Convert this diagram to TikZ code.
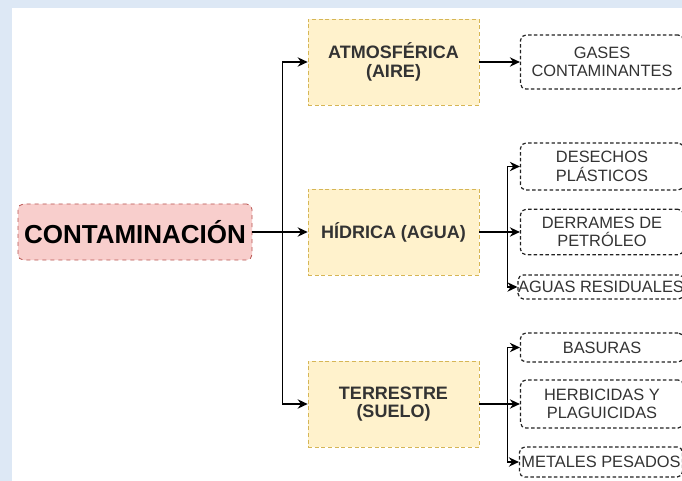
\documentclass[tikz,border=0pt]{standalone}
\usepackage{fontspec}
\setmainfont{Liberation Sans}
\usetikzlibrary{arrows.meta}
\definecolor{bgblue}{HTML}{DDE8F5}
\definecolor{mainfill}{HTML}{F8CECC}
\definecolor{mainline}{HTML}{B85450}
\definecolor{midfill}{HTML}{FFF2CC}
\definecolor{midline}{HTML}{D6B656}
\definecolor{txtdark}{HTML}{333333}
\definecolor{leafline}{HTML}{222222}
\begin{document}
\begin{tikzpicture}[x=0.75pt,y=-0.75pt,
  mainbox/.style={draw=mainline, fill=mainfill, dashed, rounded corners=4pt, line width=0.6pt,
    minimum width=175.5pt, minimum height=42pt, inner sep=0pt,
    font=\fontsize{19.5}{22}\selectfont\bfseries, text=black},
  midbox/.style={draw=midline, fill=midfill, dash pattern=on 3pt off 2pt, line width=0.5pt,
    minimum width=128.25pt, minimum height=64.5pt, inner sep=0pt, align=center,
    font=\fontsize{13.5}{14}\selectfont\bfseries, text=txtdark},
  leafbox/.style={draw=leafline, fill=white, dash pattern=on 2.6pt off 1.8pt, line width=0.9pt,
    rounded corners=4pt, minimum width=122.25pt, inner sep=0pt, align=center,
    font=\fontsize{12.3}{14}\selectfont, text=txtdark},
  arr/.style={-{Stealth[length=7.5pt,width=7pt]}, line width=1.1pt, black}]
\useasboundingbox (0,0) rectangle (682,481);
\clip (0,0) rectangle (682,481);
\fill[bgblue] (0,0) rectangle (682,481);
\fill[white] (12,8) rectangle (682,481);

\node[mainbox] (main) at (135,232) {CONTAMINACIÓN};

\node[midbox] (atmos) at (393.5,62) {ATMOSFÉRICA\\(AIRE)};
\node[midbox] (hidrica) at (393.5,232) {HÍDRICA (AGUA)};
\node[midbox] (terr) at (393.5,404) {TERRESTRE\\(SUELO)};

\node[leafbox, minimum height=40.5pt] (gases) at (602,62) {GASES\\CONTAMINANTES};
\node[leafbox, minimum height=35.25pt] (desechos) at (602,166.5) {DESECHOS\\PLÁSTICOS};
\node[leafbox, minimum height=34pt] (derrames) at (602,232) {DERRAMES DE\\PETRÓLEO};
\node[leafbox, minimum height=18pt] (aguas) at (601,287) {AGUAS RESIDUALES};
\node[leafbox, minimum height=21.75pt] (basuras) at (602,347.5) {BASURAS};
\node[leafbox, minimum height=36pt] (herb) at (602,404) {HERBICIDAS Y\\PLAGUICIDAS};
\node[leafbox, minimum height=22.5pt] (metales) at (601,462) {METALES PESADOS};

\draw[arr] (main.east) -- (hidrica.west);
\draw[arr] (main.east) -- ++(30,0) |- (atmos.west);
\draw[arr] (main.east) -- ++(30,0) |- (terr.west);

\draw[arr] (atmos.east) -- (gases.west);

\draw[arr] (hidrica.east) -- (derrames.west);
\draw[arr] (hidrica.east) -- ++(28,0) |- (desechos.west);
\draw[arr] (hidrica.east) -- ++(28,0) |- (aguas.west);

\draw[arr] (terr.east) -- (herb.west);
\draw[arr] (terr.east) -- ++(28,0) |- (basuras.west);
\draw[arr] (terr.east) -- ++(28,0) |- (metales.west);
\end{tikzpicture}
\end{document}
